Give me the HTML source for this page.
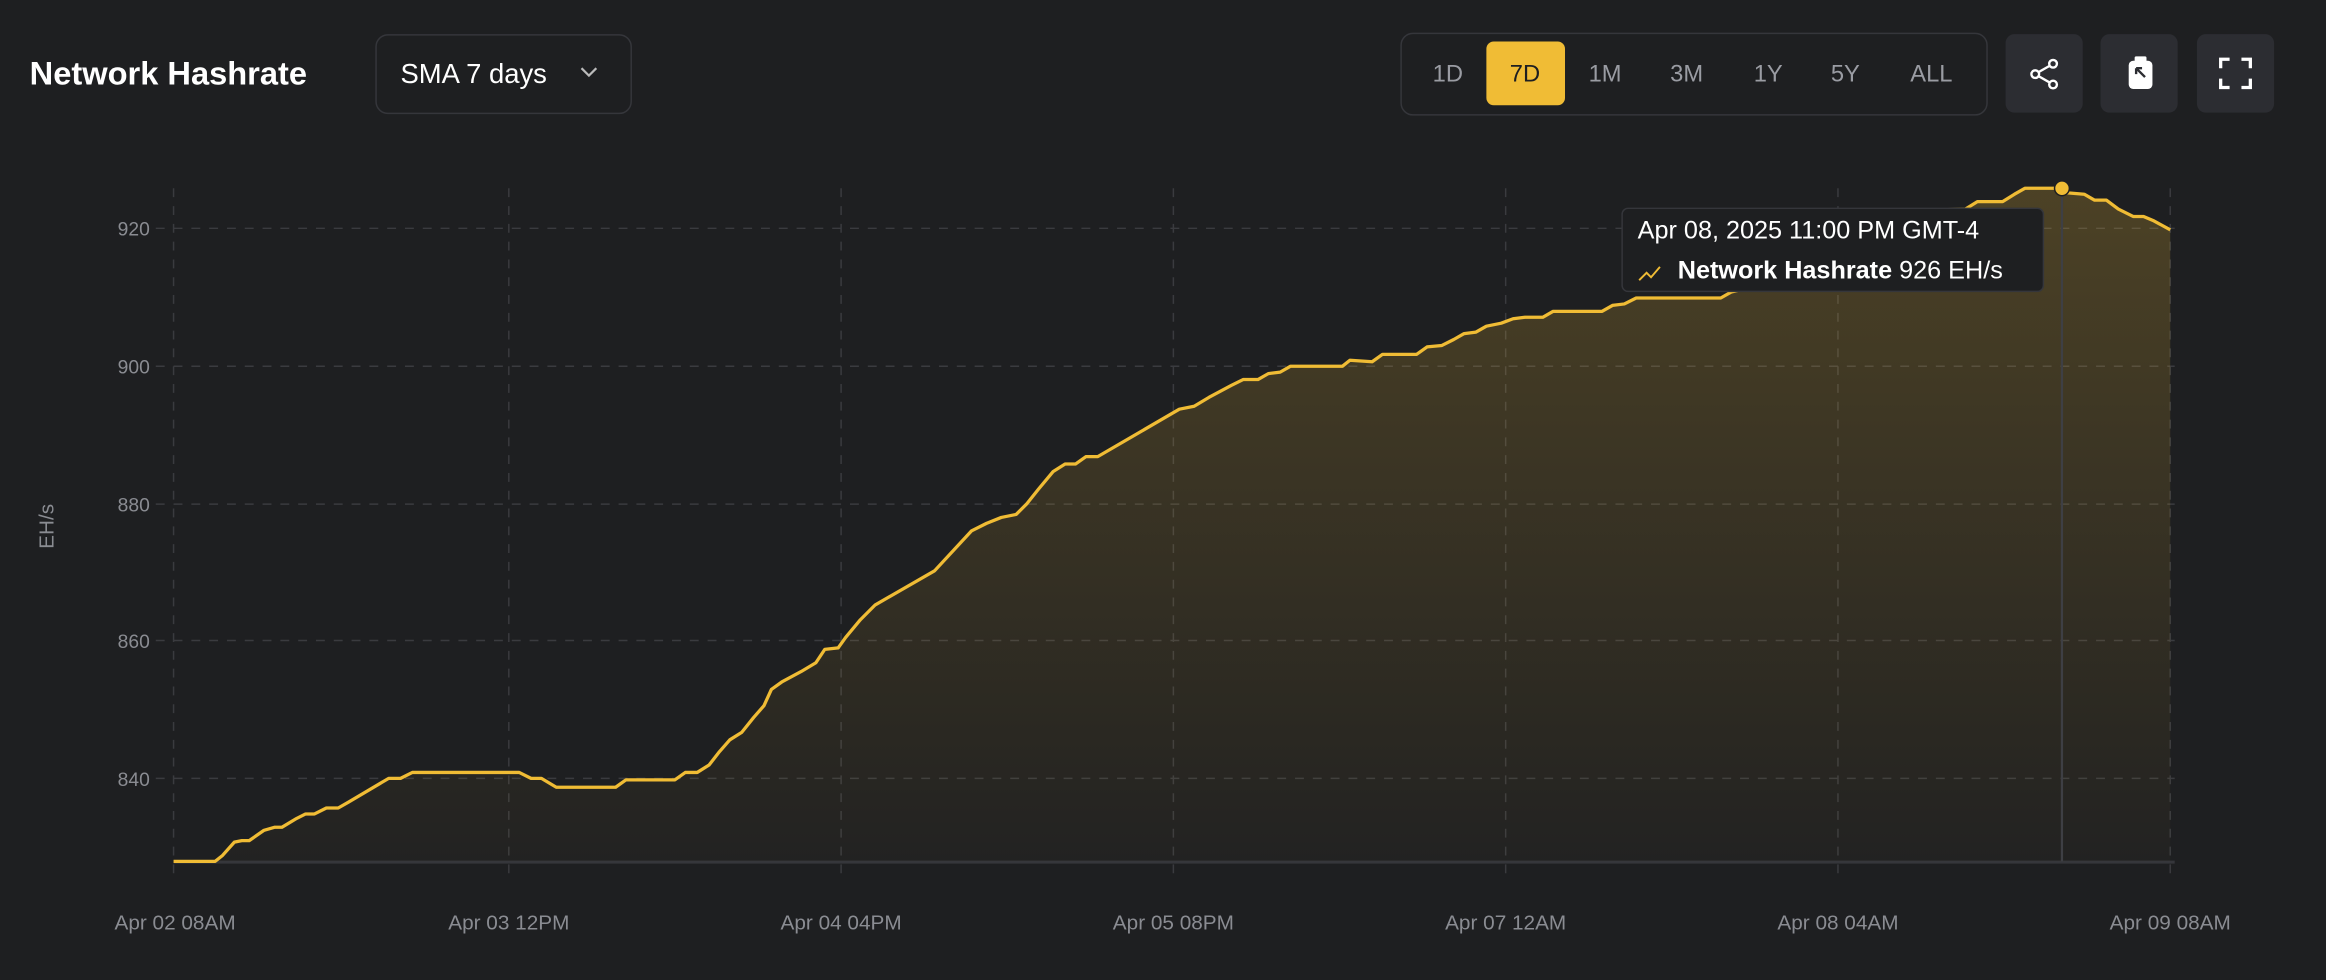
<!DOCTYPE html>
<html><head><meta charset="utf-8"><style>
html,body{margin:0;padding:0;background:#1e1f21;width:2326px;height:980px;overflow:hidden}
svg{display:block;font-family:"Liberation Sans",sans-serif}
</style></head><body>
<svg width="2326" height="980" viewBox="0 0 1568 661" preserveAspectRatio="none" xmlns="http://www.w3.org/2000/svg">
<defs>
<linearGradient id="g" x1="0" y1="0" x2="0" y2="1">
<stop offset="0" stop-color="#f0bc35" stop-opacity="0.22"/>
<stop offset="1" stop-color="#f0bc35" stop-opacity="0.02"/>
</linearGradient>
</defs>
<rect width="1568" height="661" fill="#1e1f21"/>
<text x="20" y="57" fill="#fff" font-size="22" font-weight="bold">Network Hashrate</text>
<rect x="253.5" y="23.5" width="172" height="53" rx="8" fill="#1e1f21" stroke="#35363b"/>
<text x="270" y="56" fill="#fff" font-size="18.5">SMA 7 days</text>
<path d="M392 46 l5 5 l5 -5" stroke="#bbb" stroke-width="1.5" fill="none"/>
<rect x="944.5" y="22.5" width="395" height="55" rx="8" fill="#1e1f21" stroke="#35363b"/>
<rect x="1002" y="28" width="53" height="43" rx="5" fill="#f0bc35"/>
<g font-size="16" fill="#9a9ca3" text-anchor="middle">
<text x="976" y="55">1D</text><text x="1028" y="55" fill="#1e1f21">7D</text><text x="1082" y="55">1M</text><text x="1137" y="55">3M</text><text x="1192" y="55">1Y</text><text x="1244" y="55">5Y</text><text x="1302" y="55">ALL</text>
</g>
<rect x="1352" y="23" width="52" height="53" rx="6" fill="#2c2d32"/>
<rect x="1416" y="23" width="52" height="53" rx="6" fill="#2c2d32"/>
<rect x="1481" y="23" width="52" height="53" rx="6" fill="#2c2d32"/>
<g stroke="#fff" stroke-width="1.6" fill="none">
<circle cx="1384" cy="43" r="2.6"/><circle cx="1372" cy="50" r="2.6"/><circle cx="1384" cy="57" r="2.6"/>
<path d="M1374.5 48.5 L1381.5 44.5 M1374.5 51.5 L1381.5 55.5"/>
<path d="M1497 46 v-6 h6 M1511 40 h6 v6 M1517 53 v6 h-6 M1503 59 h-6 v-6" stroke-width="2.2"/>
</g>
<rect x="1435" y="41" width="16" height="19" rx="3" fill="#fff"/>
<rect x="1439" y="38" width="8" height="5" rx="1" fill="#fff"/>
<path d="M1440 46 l6 6 M1440 46 v4 M1440 46 h4" stroke="#2c2d32" stroke-width="1.6" fill="none"/>
<g stroke="#3a3b3f" stroke-width="1" stroke-dasharray="6,6">
<line x1="117" y1="127" x2="117" y2="590"/><line x1="343" y1="127" x2="343" y2="590"/><line x1="567" y1="127" x2="567" y2="590"/><line x1="791" y1="127" x2="791" y2="590"/><line x1="1015" y1="127" x2="1015" y2="590"/><line x1="1239" y1="127" x2="1239" y2="590"/><line x1="1463" y1="127" x2="1463" y2="590"/>
<line x1="105" y1="154" x2="1466" y2="154"/><line x1="105" y1="247" x2="1466" y2="247"/><line x1="105" y1="340" x2="1466" y2="340"/><line x1="105" y1="432" x2="1466" y2="432"/><line x1="105" y1="525" x2="1466" y2="525"/>
</g>
<g font-size="13" fill="#8a8c92" text-anchor="end">
<text x="101" y="159">920</text><text x="101" y="252">900</text><text x="101" y="345">880</text><text x="101" y="437">860</text><text x="101" y="530">840</text>
</g>
<text x="36" y="355" font-size="14" fill="#8a8c92" text-anchor="middle" transform="rotate(-90 36 355)">EH/s</text>
<g font-size="14" fill="#8a8c92" text-anchor="middle">
<text x="118" y="627">Apr 02 08AM</text><text x="343" y="627">Apr 03 12PM</text><text x="567" y="627">Apr 04 04PM</text><text x="791" y="627">Apr 05 08PM</text><text x="1015" y="627">Apr 07 12AM</text><text x="1239" y="627">Apr 08 04AM</text><text x="1463" y="627">Apr 09 08AM</text>
</g>
<line x1="117" y1="581.5" x2="1466" y2="581.5" stroke="#35363b" stroke-width="2"/>
<path fill="url(#g)" d="M117,581 L145,581 L150,577 L158,568 L163,567 L168,567 L178,560 L185,558 L190,558 L200,552 L206,549 L212,549 L220,545 L228,545 L235,541 L262,525 L270,525 L278,521 L285,521 L350,521 L358,525 L365,525 L375,531 L415,531 L422,526 L455,526 L462,521 L470,521 L478,516 L485,507 L492,499 L500,494 L508,484 L515,476 L520,465 L527,460 L540,453 L550,447 L556,438 L565,437 L570,430 L580,418 L590,408 L630,385 L655,358 L665,353 L675,349 L685,347 L692,340 L700,330 L710,318 L718,313 L725,313 L732,308 L740,308 L795,276 L805,274 L815,268 L830,260 L838,256 L848,256 L855,252 L863,251 L870,247 L905,247 L910,243 L925,244 L932,239 L955,239 L962,234 L972,233 L980,229 L987,225 L995,224 L1002,220 L1012,218 L1020,215 L1028,214 L1040,214 L1047,210 L1080,210 L1087,206 L1095,205 L1103,201 L1160,201 L1167,197 L1175,195 L1200,190 L1230,184 L1260,170 L1290,150 L1296,142 L1325,141 L1333,136 L1350,136 L1358,131 L1365,127 L1385,127 L1393,130 L1405,131 L1412,135 L1420,135 L1428,141 L1438,146 L1445,146 L1452,149 L1463,155 L1463,581 Z"/>
<path fill="none" stroke="#f0bc35" stroke-width="2.2" stroke-linejoin="round" d="M117,581 L145,581 L150,577 L158,568 L163,567 L168,567 L178,560 L185,558 L190,558 L200,552 L206,549 L212,549 L220,545 L228,545 L235,541 L262,525 L270,525 L278,521 L285,521 L350,521 L358,525 L365,525 L375,531 L415,531 L422,526 L455,526 L462,521 L470,521 L478,516 L485,507 L492,499 L500,494 L508,484 L515,476 L520,465 L527,460 L540,453 L550,447 L556,438 L565,437 L570,430 L580,418 L590,408 L630,385 L655,358 L665,353 L675,349 L685,347 L692,340 L700,330 L710,318 L718,313 L725,313 L732,308 L740,308 L795,276 L805,274 L815,268 L830,260 L838,256 L848,256 L855,252 L863,251 L870,247 L905,247 L910,243 L925,244 L932,239 L955,239 L962,234 L972,233 L980,229 L987,225 L995,224 L1002,220 L1012,218 L1020,215 L1028,214 L1040,214 L1047,210 L1080,210 L1087,206 L1095,205 L1103,201 L1160,201 L1167,197 L1175,195 L1200,190 L1230,184 L1260,170 L1290,150 L1296,142 L1325,141 L1333,136 L1350,136 L1358,131 L1365,127 L1385,127 L1393,130 L1405,131 L1412,135 L1420,135 L1428,141 L1438,146 L1445,146 L1452,149 L1463,155"/>
<line x1="1390" y1="127" x2="1390" y2="581" stroke="#3e3f44" stroke-width="1.5"/>
<circle cx="1390" cy="127" r="5" fill="#f0bc35" stroke="#1e1f21" stroke-width="1"/>
<rect x="1093.5" y="140.5" width="284" height="56" rx="4" fill="#1e1f21" stroke="#35363b"/>
<text x="1104" y="161" font-size="17" fill="#fff">Apr 08, 2025 11:00 PM GMT-4</text>
<path d="M1105 189 l5 -5 l3 3 l6 -7" stroke="#f0bc35" stroke-width="1.3" fill="none"/>
<text x="1131" y="188" font-size="17" fill="#fff"><tspan font-weight="bold">Network Hashrate</tspan> 926 EH/s</text>
</svg>
</body></html>
